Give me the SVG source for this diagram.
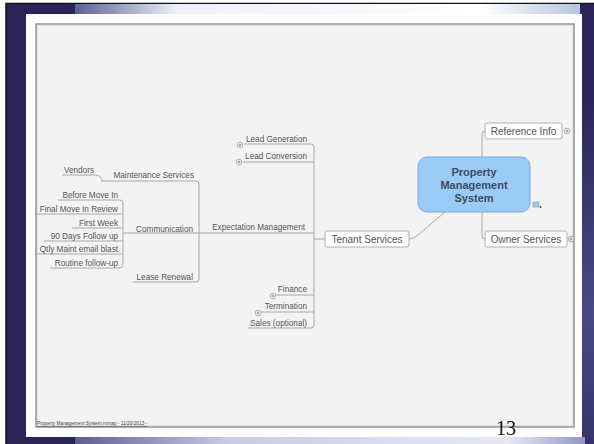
<svg xmlns="http://www.w3.org/2000/svg" width="594" height="444" viewBox="0 0 594 444">
<defs>
<linearGradient id="topbar" x1="0" y1="0" x2="1" y2="0">
<stop offset="0" stop-color="#5a5f96"/>
<stop offset="0.2" stop-color="#eef0f8"/>
<stop offset="0.8" stop-color="#ffffff"/>
<stop offset="1" stop-color="#b8c4e0"/>
</linearGradient>
<linearGradient id="botbar" x1="0" y1="0" x2="1" y2="0">
<stop offset="0" stop-color="#5a5f96"/>
<stop offset="0.3" stop-color="#c8cce4"/>
<stop offset="0.85" stop-color="#e6e9f4"/>
<stop offset="1" stop-color="#8e98c4"/>
</linearGradient>
<radialGradient id="swoosh" cx="1" cy="0.7" r="0.5">
<stop offset="0" stop-color="#4a4a88"/>
<stop offset="1" stop-color="#2b2456"/>
</radialGradient>
</defs>
<style>
.leaf{font-family:"Liberation Sans",Arial,sans-serif;font-size:8.2px;fill:#555;}
.mid{font-family:"Liberation Sans",Arial,sans-serif;font-size:10px;fill:#555;}
.ctr{font-family:"Liberation Sans",Arial,sans-serif;font-size:11px;font-weight:bold;fill:#3a4d66;}
.con{fill:none;stroke:#a8a8a8;stroke-width:1;}
.box{fill:#fff;stroke:#b0b0b0;stroke-width:1;}
.plus circle{fill:#fff;stroke:#999;stroke-width:0.8;}
.plus path{stroke:#666;stroke-width:0.7;fill:none;}
</style>
<!-- background -->
<rect x="0" y="0" width="594" height="444" fill="#ffffff"/>
<rect x="6" y="3" width="588" height="441" fill="url(#swoosh)"/>
<path d="M6,444 V3.5 H594" fill="none" stroke="#111" stroke-width="1.5"/>
<rect x="75" y="4" width="505" height="10" fill="url(#topbar)"/>
<rect x="75" y="437" width="510" height="7" fill="url(#botbar)"/>
<!-- slide -->
<rect x="26" y="14" width="556" height="423" fill="#ffffff"/>
<rect x="36" y="24" width="538" height="403" fill="#f3f3f3" stroke="#9a9a9a" stroke-width="1.6"/>
<rect x="37.5" y="25.5" width="535" height="400" fill="none" stroke="#dcdcdc" stroke-width="0.8"/>

<g id="connectors">
<!-- Central to main -->
<path class="con" d="M409,239 Q414,239 418,235 L445,212"/>
<path class="con" d="M482,157 V134 Q482,131 485,131"/>
<path class="con" d="M482,212 V236 Q482,239 485,239"/>
<!-- Tenant Services bracket -->
<path class="con" d="M325,239 H314"/>
<path class="con" d="M244,144 H311 Q314,144 314,147 V325 Q314,328 311,328 H248"/>
<path class="con" d="M243,162 H314"/>
<path class="con" d="M199,233 H314"/>
<path class="con" d="M276,295 H314"/>
<path class="con" d="M261,312 H314"/>
<!-- Expectation bracket -->
<path class="con" d="M101,181 H196 Q199,181 199,184 V279 Q199,282 196,282 H133"/>
<path class="con" d="M123,233 H199"/>
<path class="con" d="M62,175 H96 Q99,175 101,178 L103,181"/>
<!-- Communication bracket -->
<path class="con" d="M58,200 H120 Q123,200 123,203 V265 Q123,268 120,268 H50"/>
<path class="con" d="M36,214 H123"/>
<path class="con" d="M72,228 H123"/>
<path class="con" d="M44,241 H123"/>
<path class="con" d="M36,254 H123"/>
</g>

<g id="central">
<rect x="418" y="157" width="112" height="55" rx="9" fill="#9ccaf6" stroke="#78abdf" stroke-width="1"/>
<text class="ctr" x="474" y="176" text-anchor="middle">Property</text>
<text class="ctr" x="474" y="189" text-anchor="middle">Management</text>
<text class="ctr" x="474" y="202" text-anchor="middle">System</text>
<g id="note-icon">
<rect x="533" y="202" width="6" height="5" fill="#a9c4dc" stroke="#7f9bb5" stroke-width="0.6"/>
<circle cx="540.5" cy="207" r="1" fill="#445"/>
</g>
</g>

<g id="reference-info">
<rect class="box" x="485" y="123" width="77" height="16" rx="2"/>
<text class="mid" x="523.5" y="134.5" text-anchor="middle">Reference Info</text>
<g class="plus"><circle cx="567" cy="131" r="2.8"/><path d="M565.5,131 H568.5 M567,129.5 V132.5"/></g>
</g>

<g id="owner-services">
<rect class="box" x="485" y="231" width="82" height="16" rx="2"/>
<text class="mid" x="526" y="242.5" text-anchor="middle">Owner Services</text>
<g class="plus"><circle cx="571" cy="239" r="2.8"/><path d="M569.5,239 H572.5 M571,237.5 V240.5"/></g>
</g>

<g id="tenant-services">
<rect class="box" x="325" y="231" width="84" height="16" rx="2"/>
<text class="mid" x="367" y="242.5" text-anchor="middle">Tenant Services</text>
</g>

<g id="lead-generation">
<text class="leaf" x="307" y="141.5" text-anchor="end">Lead Generation</text>
<g class="plus"><circle cx="240" cy="145" r="2.8"/><path d="M238.5,145 H241.5 M240,143.5 V146.5"/></g>
</g>
<g id="lead-conversion">
<text class="leaf" x="307" y="158.5" text-anchor="end">Lead Conversion</text>
<g class="plus"><circle cx="239" cy="162" r="2.8"/><path d="M237.5,162 H240.5 M239,160.5 V163.5"/></g>
</g>
<g id="expectation-management">
<text class="leaf" x="305" y="230" text-anchor="end">Expectation Management</text>
</g>
<g id="finance">
<text class="leaf" x="307" y="292" text-anchor="end">Finance</text>
<g class="plus"><circle cx="273" cy="296" r="2.8"/><path d="M271.5,296 H274.5 M273,294.5 V297.5"/></g>
</g>
<g id="termination">
<text class="leaf" x="307" y="309" text-anchor="end">Termination</text>
<g class="plus"><circle cx="258" cy="313" r="2.8"/><path d="M256.5,313 H259.5 M258,311.5 V314.5"/></g>
</g>
<g id="sales">
<text class="leaf" x="307" y="325.5" text-anchor="end">Sales (optional)</text>
</g>

<g id="maintenance-services">
<text class="leaf" x="194" y="178" text-anchor="end">Maintenance Services</text>
</g>
<g id="vendors">
<text class="leaf" x="94" y="172.5" text-anchor="end">Vendors</text>
</g>
<g id="communication">
<text class="leaf" x="193" y="231.5" text-anchor="end">Communication</text>
</g>
<g id="lease-renewal">
<text class="leaf" x="193" y="279.5" text-anchor="end">Lease Renewal</text>
</g>

<g id="before-move-in"><text class="leaf" x="118" y="197.5" text-anchor="end">Before Move In</text></g>
<g id="final-move-in-review"><text class="leaf" x="118" y="211.5" text-anchor="end">Final Move In Review</text></g>
<g id="first-week"><text class="leaf" x="118" y="225.5" text-anchor="end">First Week</text></g>
<g id="days-follow-up"><text class="leaf" x="118" y="238.5" text-anchor="end">90 Days Follow up</text></g>
<g id="qtly-maint"><text class="leaf" x="118" y="251.5" text-anchor="end">Qtly Maint email blast</text></g>
<g id="routine-follow-up"><text class="leaf" x="118" y="265.5" text-anchor="end">Routine follow-up</text></g>

<!-- footer -->
<text x="37" y="425" font-family="Liberation Sans, Arial, sans-serif" font-size="4.8" fill="#444" text-decoration="underline">Property Management System.mmap - 11/20/2013 -</text>
<text x="496" y="435" font-family="Liberation Serif, Times New Roman, serif" font-size="20" fill="#111">13</text>
</svg>
